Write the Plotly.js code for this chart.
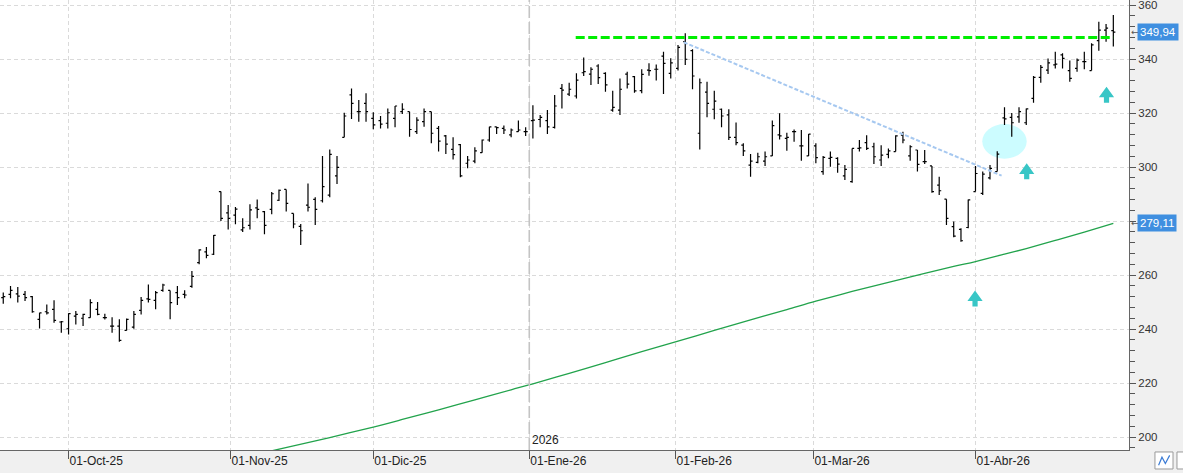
<!DOCTYPE html>
<html><head><meta charset="utf-8">
<script src="https://cdn.plot.ly/plotly-3.0.1.min.js"></script>
<style>html,body{margin:0;padding:0;background:#f0f0f0;overflow:hidden}#chart{width:1183px;height:473px}</style>
</head><body><div id="chart"></div>
<script>
const dates = [
'2025-09-18','2025-09-19','2025-09-22','2025-09-23','2025-09-24','2025-09-25','2025-09-26','2025-09-29','2025-09-30',
'2025-10-01','2025-10-02','2025-10-03','2025-10-06','2025-10-07','2025-10-08','2025-10-09','2025-10-10','2025-10-13','2025-10-14','2025-10-15','2025-10-16','2025-10-17','2025-10-20','2025-10-21','2025-10-22','2025-10-23','2025-10-24','2025-10-27','2025-10-28','2025-10-29','2025-10-30','2025-10-31',
'2025-11-03','2025-11-04','2025-11-05','2025-11-06','2025-11-07','2025-11-10','2025-11-11','2025-11-12','2025-11-13','2025-11-14','2025-11-17','2025-11-18','2025-11-19','2025-11-20','2025-11-21','2025-11-24','2025-11-25','2025-11-26','2025-11-28',
'2025-12-01','2025-12-02','2025-12-03','2025-12-04','2025-12-05','2025-12-08','2025-12-09','2025-12-10','2025-12-11','2025-12-12','2025-12-15','2025-12-16','2025-12-17','2025-12-18','2025-12-19','2025-12-22','2025-12-23','2025-12-24','2025-12-26','2025-12-29','2025-12-30','2025-12-31',
'2026-01-02','2026-01-05','2026-01-06','2026-01-07','2026-01-08','2026-01-09','2026-01-12','2026-01-13','2026-01-14','2026-01-15','2026-01-16','2026-01-20','2026-01-21','2026-01-22','2026-01-23','2026-01-26','2026-01-27','2026-01-28','2026-01-29','2026-01-30',
'2026-02-02','2026-02-03','2026-02-04','2026-02-05','2026-02-06','2026-02-09','2026-02-10','2026-02-11','2026-02-12','2026-02-13','2026-02-17','2026-02-18','2026-02-19','2026-02-20','2026-02-23','2026-02-24','2026-02-25','2026-02-26','2026-02-27',
'2026-03-02','2026-03-03','2026-03-04','2026-03-05','2026-03-06','2026-03-09','2026-03-10','2026-03-11','2026-03-12','2026-03-13','2026-03-16','2026-03-17','2026-03-18','2026-03-19','2026-03-20','2026-03-23','2026-03-24','2026-03-25','2026-03-26','2026-03-27','2026-03-30','2026-03-31',
'2026-04-01','2026-04-02','2026-04-06','2026-04-07','2026-04-08','2026-04-09','2026-04-10','2026-04-13','2026-04-14','2026-04-15','2026-04-16','2026-04-17','2026-04-20','2026-04-21','2026-04-22','2026-04-23','2026-04-24','2026-04-27','2026-04-28','2026-04-29'];

const openP = [251.6,252.8,253.0,252.8,252.0,243.6,246.4,247.3,242.6,
240.1,244.8,244.0,244.2,247.3,244.2,241.1,241.1,239.5,240.7,246.9,251.2,250.6,254.3,254.3,253.5,252.8,255.8,264.6,268.6,267.7,290.9,283.0,
282.2,276.7,278.4,284.9,283.5,284.3,287.7,291.7,282.8,278.0,285.9,288.0,287.5,289.6,296.7,311.0,326.7,320.5,323.6,
318.0,317.2,316.2,318.0,320.5,320.5,313.1,316.8,320.5,314.3,311.5,306.5,308.3,301.4,302.2,305.3,310.0,314.9,314.3,311.9,313.1,313.1,
317.2,317.6,317.2,314.7,329.1,327.0,326.3,334.9,334.4,337.4,334.7,321.1,321.1,334.4,333.5,328.3,335.9,336.2,341.1,334.7,
336.5,346.4,343.1,312.5,327.7,321.4,321.4,319.3,311.0,308.1,300.7,301.7,302.2,304.1,311.9,310.6,313.1,307.8,304.1,
307.8,298.3,303.2,303.2,296.7,294.6,306.9,309.0,307.5,302.6,304.7,305.7,311.8,304.1,306.3,302.0,300.4,293.3,288.1,277.9,276.9,277.6,
290.9,290.2,296.0,298.3,318.2,318.4,318.6,316.4,325.4,333.2,335.9,337.8,341.5,335.7,336.5,339.0,335.7,346.8,350.7,350.5];
const highP = [253.5,255.9,255.6,254.1,252.2,246.0,249.1,250.7,243.0,
245.8,246.7,245.7,251.0,250.0,245.7,244.4,243.6,243.9,246.7,251.9,256.5,254.1,256.8,254.3,255.9,254.4,261.5,269.5,270.4,274.8,290.9,285.9,
285.2,281.0,286.2,288.0,283.7,290.7,291.7,291.7,282.8,278.9,293.9,288.8,304.1,306.5,304.1,320.1,329.1,324.8,327.3,
320.3,318.9,321.7,322.6,323.6,320.5,318.4,321.7,320.5,315.2,311.9,311.0,308.5,304.1,307.3,310.2,314.9,314.9,315.4,314.3,317.2,314.7,
322.9,319.3,321.1,326.7,330.7,331.2,334.7,340.6,336.9,338.1,335.1,328.2,332.8,335.3,333.7,336.2,338.4,338.0,342.7,340.3,
345.2,349.5,343.6,332.8,331.6,328.2,321.7,321.4,316.5,308.8,304.8,305.3,305.7,317.2,319.9,312.7,313.9,313.7,312.2,
308.8,304.1,305.7,303.6,300.7,306.9,310.0,311.8,309.0,308.1,306.9,311.8,313.1,308.1,306.3,306.3,300.4,296.4,288.1,279.8,277.3,288.0,
300.4,298.3,300.7,305.8,322.1,320.0,322.1,321.7,333.7,337.8,340.2,342.7,342.1,339.4,340.2,342.7,345.8,353.8,353.0,356.3];
const lowP = [249.4,251.4,249.8,250.4,246.0,240.2,245.4,242.3,238.6,
238.0,241.7,241.1,244.2,245.1,243.5,238.6,235.3,239.5,240.1,245.4,249.8,247.3,253.8,243.6,248.9,251.4,255.3,264.0,266.2,267.4,280.0,276.9,
278.8,275.9,276.9,281.0,275.1,282.5,287.4,283.5,277.3,271.1,283.5,278.5,286.9,288.8,293.7,311.0,317.8,316.8,316.8,
314.0,314.3,314.3,314.7,319.6,311.2,312.2,314.9,308.8,305.7,304.8,302.8,296.2,299.5,301.4,305.3,309.4,312.2,312.2,311.0,313.1,311.5,
310.6,314.7,312.2,314.3,321.7,326.3,325.4,333.7,330.4,330.7,327.9,320.5,319.3,329.1,327.5,327.3,333.8,332.0,327.0,332.8,
335.7,337.8,328.8,306.5,318.4,317.7,314.7,310.0,308.1,304.1,296.4,301.4,300.4,304.1,310.2,306.0,309.4,302.3,304.1,
301.4,297.1,300.1,297.9,295.2,294.2,305.7,306.3,301.1,300.4,303.2,305.7,308.8,302.3,298.3,301.1,290.5,289.6,278.5,274.0,272.3,277.3,
290.9,289.6,295.4,298.3,315.6,311.2,316.4,315.6,323.8,331.2,334.4,336.5,336.5,331.6,335.3,336.2,335.7,343.1,346.4,344.6];
const closeP = [252.0,254.3,252.2,251.6,246.4,246.0,246.0,243.2,242.7,
245.7,245.4,245.4,249.8,245.4,244.2,241.1,235.8,243.6,245.4,250.6,251.0,253.5,256.3,249.8,251.6,252.6,259.5,269.3,267.3,274.7,281.0,281.0,
284.4,277.5,284.1,284.3,278.4,290.1,291.4,286.5,278.9,276.4,285.1,284.3,292.7,304.7,299.9,318.9,323.6,320.5,320.5,
315.6,315.9,320.1,322.6,321.4,313.9,317.4,320.5,312.5,309.6,308.5,304.6,296.7,302.6,306.0,310.0,314.9,314.6,313.7,313.7,313.7,313.1,
317.4,318.4,314.9,322.6,328.5,328.8,332.2,335.3,336.2,333.1,330.4,322.1,328.8,330.7,328.2,334.3,335.7,336.2,338.4,338.6,
344.3,339.9,333.7,331.2,323.6,324.4,318.9,311.0,309.0,306.0,302.2,303.8,303.8,315.3,311.5,311.0,313.1,307.8,312.2,
303.5,303.6,303.6,301.1,299.1,306.9,307.1,306.9,303.8,304.4,306.0,311.5,310.0,307.5,301.0,302.0,290.9,291.2,281.0,274.4,272.7,287.8,
297.6,297.4,299.5,304.8,317.8,316.4,320.5,321.5,333.2,336.9,338.6,338.1,340.2,332.8,339.6,339.0,345.2,350.7,351.4,349.94];

// moving average (read at selected sessions)
const maDates = ['2025-11-06','2025-11-10','2025-11-13','2025-11-20','2025-12-01','2025-12-05','2025-12-12','2025-12-19','2025-12-29',
'2026-01-02','2026-01-09','2026-01-16','2026-01-26','2026-02-02','2026-02-09','2026-02-17','2026-02-24','2026-03-02','2026-03-09',
'2026-03-16','2026-03-23','2026-03-27','2026-04-01','2026-04-08','2026-04-13','2026-04-17','2026-04-23','2026-04-29'];
const maValues = [193.8,194.9,196.7,199.8,203.7,206.5,210.1,213.8,217.5,
219.7,223.6,227.6,231.6,235.5,239.5,243.4,247.2,250.3,253.9,
257.3,260.6,263.2,265.0,267.7,269.8,272.8,275.9,279.11];

const tickDates = ['2025-10-01','2025-11-01','2025-12-01','2026-01-01','2026-02-01','2026-03-01','2026-04-01'];
const tickLabels = ['01-Oct-25','01-Nov-25','01-Dic-25','01-Ene-26','01-Feb-26','01-Mar-26','01-Abr-26'];
const yTickVals = [200,220,240,260,280,300,320,340,360];
const yTickText = ['200','220','240','260','','300','320','340','360']; // 280 hidden under the 279,11 label

const resistance = 348.0;
const lastPrice = 349.94;
const lastMA = 279.11;

// --- helpers ---
const idx = dates.map((d,i)=>i);
function pos(dateStr){
  const t = Date.parse(dateStr);
  for (let i=0;i<dates.length;i++){
    const d = Date.parse(dates[i]);
    if (d>=t){
      if (d===t || i===0) return i;
      const p = Date.parse(dates[i-1]);
      return i-1 + (t-p)/(d-p);
    }
  }
  return dates.length-1;
}
const tickVals = tickDates.map(pos);
const maX = maDates.map(pos);
const yearPos = pos('2026-01-01');
const FONT = 'Liberation Sans, Arial, sans-serif';

const traces = [
  {type:'scatter', mode:'lines', x:maX, y:maValues, line:{color:'#22a34c', width:1.3, shape:'spline', smoothing:1}, hoverinfo:'skip', showlegend:false},
  {type:'ohlc', x:idx, open:openP, high:highP, low:lowP, close:closeP,
   increasing:{line:{color:'#000', width:1.2}}, decreasing:{line:{color:'#000', width:1.2}},
   tickwidth:0.28, showlegend:false, hoverinfo:'skip'}
];

function arrow(xc, yc){
  return {type:'path', xref:'x', yref:'y', xsizemode:'pixel', ysizemode:'pixel', xanchor:xc, yanchor:yc,
    path:'M 0 8 L 7.6 -2.6 L 2.6 -2.6 L 2.6 -8 L -2.6 -8 L -2.6 -2.6 L -7.6 -2.6 Z',
    fillcolor:'#38c6c6', line:{width:0}};
}

const lastIdx = dates.length-1;
const shapes = [
  {type:'circle', xref:'x', yref:'y', x0:134.94, x1:141.06, y0:303.1, y1:315.9, fillcolor:'#ccfcff', line:{width:0}, layer:'below'},
  {type:'line', xref:'x', yref:'paper', x0:yearPos, x1:yearPos, y0:0, y1:1, line:{color:'#c4c4c4', width:1.6, dash:'12px,4px'}},
  {type:'line', xref:'x', yref:'y', x0:78.9, x1:lastIdx, y0:resistance, y1:resistance, line:{color:'#00ee00', width:3, dash:'9px,3.5px'}},
  {type:'line', xref:'x', yref:'y', x0:93.8, y0:346.2, x1:137.6, y1:296.8, line:{color:'#a6c8f0', width:2, dash:'4px,2px'}},
  arrow(133.94, 251.3), arrow(141.06, 298.4), arrow(152.06, 326.8),
  // bottom-right little buttons
  {type:'rect', xref:'paper', yref:'paper', x0:1.0230, x1:1.0390, y0:-0.0422, y1:-0.0044, fillcolor:'#ffffff', line:{color:'#9a9a9a', width:1}},
  {type:'path', xref:'paper', yref:'paper', path:'M 1.0262 -0.034 L 1.0292 -0.016 L 1.0322 -0.030 L 1.0360 -0.012', line:{color:'#3a7bd5', width:1.2}},
  {type:'rect', xref:'paper', yref:'paper', x0:1.0425, x1:1.0600, y0:-0.0422, y1:-0.0044, fillcolor:'#ffffff', line:{color:'#9a9a9a', width:1}}
];

const annotations = [
  {xref:'x', yref:'paper', x:yearPos, y:0, xanchor:'left', yanchor:'bottom', xshift:1, yshift:1, text:'2026', showarrow:false, font:{family:FONT, size:12, color:'#222'}},
  {xref:'paper', yref:'y', x:1, y:lastPrice, xanchor:'left', xshift:8, text:'349,94', showarrow:false, bgcolor:'#3f8fe0', borderpad:2, font:{family:FONT, size:11.5, color:'#fff'}},
  {xref:'paper', yref:'y', x:1, y:lastMA, xanchor:'left', xshift:8, text:'279,11', showarrow:false, bgcolor:'#3f8fe0', borderpad:2, font:{family:FONT, size:11.5, color:'#fff'}},
  {xref:'paper', yref:'y', x:1, y:lastPrice, xanchor:'left', xshift:0, text:'←', showarrow:false, font:{family:'DejaVu Sans', size:9, color:'#555'}},
  {xref:'paper', yref:'y', x:1, y:lastMA, xanchor:'left', xshift:0, text:'←', showarrow:false, font:{family:'DejaVu Sans', size:9, color:'#555'}}
];

const layout = {
  width:1183, height:473,
  margin:{l:0, r:54, t:0, b:23, pad:0},
  paper_bgcolor:'#f0f0f0', plot_bgcolor:'#ffffff',
  showlegend:false, dragmode:false,
  xaxis:{type:'linear', range:[-0.45, 155.16], tickmode:'array', tickvals:tickVals, ticktext:tickLabels,
    ticks:'outside', ticklen:8, tickcolor:'#555', tickwidth:1, ticklabelposition:'outside right',
    showgrid:true, gridcolor:'#dadada', griddash:'4px,3px', gridwidth:1,
    showline:true, linecolor:'#666', linewidth:1, zeroline:false, rangeslider:{visible:false},
    tickfont:{family:FONT, size:12, color:'#222'}, fixedrange:true},
  yaxis:{side:'right', range:[195.2, 361.85], tickmode:'array', tickvals:yTickVals, ticktext:yTickText,
    ticks:'outside', ticklen:6, tickcolor:'#555', ticklabeloverflow:'allow',
    showgrid:true, gridcolor:'#dadada', griddash:'4px,3px', gridwidth:1,
    showline:true, linecolor:'#666', linewidth:1, zeroline:false,
    minor:{tick0:200, dtick:4, ticks:'outside', ticklen:5, tickcolor:'#555', showgrid:false},
    tickfont:{family:FONT, size:11.5, color:'#333'}, fixedrange:true},
  shapes:shapes, annotations:annotations
};

Plotly.newPlot('chart', traces, layout, {displayModeBar:false, staticPlot:true});
</script>
</body></html>
